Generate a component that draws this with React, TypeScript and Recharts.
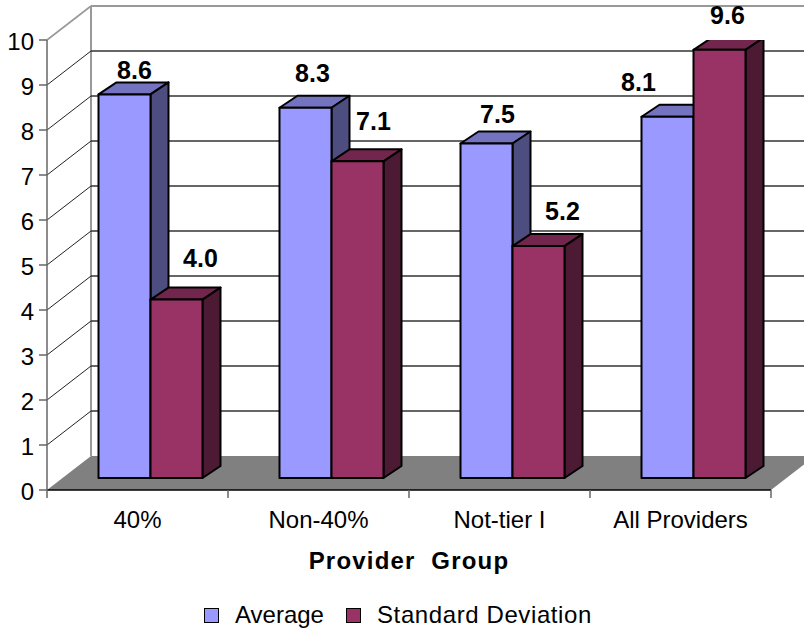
import React from "react";
import { ComposedChart, Bar, Line, XAxis, YAxis, CartesianGrid, Legend, LabelList } from "recharts";

const categories = ["40%", "Non-40%", "Not-tier I", "All Providers"];
const averages = [8.6, 8.3, 7.5, 8.1];
const stdDevs = [4.0, 7.1, 5.2, 9.6];
const valueTicks = [0, 1, 2, 3, 4, 5, 6, 7, 8, 9, 10];

const data = categories.map((name, i) => ({ name, average: averages[i], std: stdDevs[i] }));

const WIDTH = 804;
const HEIGHT = 629;
const FONT = "'Liberation Sans', Arial, sans-serif";

const PLOT_LEFT = 47;
const PLOT_RIGHT = 771;
const PLOT_TOP = 40;
const PLOT_BOTTOM = 490;
const STEP = (PLOT_RIGHT - PLOT_LEFT) / categories.length;

// fake perspective: wall offset from the front axes, and bar depth
const WALL_DX = 44;
const WALL_DY = 34;
const BAR_DX = 18;
const BAR_DY = 12;
const GROUP_SHIFT = 12.5;

// bar labels are hand placed, [dx, dy] from the top centre of the front face
const averageLabelShift = [[10, -15], [7, -26], [11, -20], [-29, -26]];
const stdLabelShift = [[24, -33], [16, -31], [24, -26], [8, -26]];

function Bar3D(props: any) {
  const { x, y, width, height, fill, top, side } = props;
  const l = x + GROUP_SHIFT;
  const r = l + width;
  const b = y + height;
  return (
    <g stroke="#000" strokeWidth={2} strokeLinejoin="round">
      <polygon points={`${l},${y} ${l + BAR_DX},${y - BAR_DY} ${r + BAR_DX},${y - BAR_DY} ${r},${y}`} fill={top} />
      <polygon points={`${r},${y} ${r + BAR_DX},${y - BAR_DY} ${r + BAR_DX},${b - BAR_DY} ${r},${b}`} fill={side} />
      <rect x={l} y={y} width={width} height={height} fill={fill} />
    </g>
  );
}

function barLabel(shifts: number[][]) {
  return (props: any) => {
    const { x, y, width, value, index } = props;
    const [dx, dy] = shifts[index];
    return (
      <text
        x={x + GROUP_SHIFT + width / 2 + dx}
        y={y + dy}
        textAnchor="middle"
        fontFamily={FONT}
        fontSize={25}
        fontWeight="bold"
        fill="#000"
      >
        {Number(value).toFixed(1)}
      </text>
    );
  };
}

// each value gridline runs along the side wall and then across the back wall
function gridLine(props: any) {
  const { x1, x2, y1, key } = props;
  const isTop = Math.abs(y1 - PLOT_TOP) < 1;
  const isFloor = Math.abs(y1 - PLOT_BOTTOM) < 1;
  const bx = x1 + WALL_DX;
  const by = y1 - WALL_DY;
  if (isFloor) {
    return (
      <g key={key}>
        <polygon points={`${x1},${y1} ${x2},${y1} ${x2 + WALL_DX},${by} ${bx},${by}`} fill="#808080" />
        <line x1={bx} y1={by} x2={bx} y2={PLOT_TOP - WALL_DY} stroke="#999" strokeWidth={2} />
      </g>
    );
  }
  return (
    <g key={key} fill="none">
      <line x1={x1} y1={y1} x2={bx} y2={by} stroke={isTop ? "#999" : "#222"} strokeWidth={isTop ? 1.6 : 1} />
      <line x1={bx} y1={by} x2={x2 + WALL_DX} y2={by} stroke={isTop ? "#999" : "#333"} strokeWidth={isTop ? 2 : 1.3} />
    </g>
  );
}

function CategoryTick(props: any) {
  const { x, y, payload, index } = props;
  const edge = x - STEP / 2;
  return (
    <g>
      <line x1={edge} y1={PLOT_BOTTOM} x2={edge} y2={PLOT_BOTTOM + 8} stroke="#666" strokeWidth={1.5} />
      {index === categories.length - 1 && (
        <line x1={x + STEP / 2} y1={PLOT_BOTTOM} x2={x + STEP / 2} y2={PLOT_BOTTOM + 8} stroke="#666" strokeWidth={1.5} />
      )}
      <text x={x} y={y + 30} textAnchor="middle" fontFamily={FONT} fontSize={24} fill="#000">
        {payload.value}
      </text>
    </g>
  );
}

function LegendRow(props: any) {
  const items = (props.payload ?? []).filter((item: any) => item.type !== "none");
  return (
    <div style={{ position: "relative", height: 30, fontFamily: FONT, fontSize: 24, color: "#000" }}>
      {items.map((item: any, i: number) => (
        <div key={item.value} style={{ position: "absolute", left: i === 0 ? 204 : 346, top: 0, display: "flex", alignItems: "center", whiteSpace: "nowrap" }}>
          <span style={{ width: 13, height: 13, background: item.color, border: "1.5px solid #000", marginRight: 16 }} />
          <span style={{ letterSpacing: i === 0 ? 0 : 0.6 }}>{item.value}</span>
        </div>
      ))}
    </div>
  );
}

export default function App() {
  return (
    <div style={{ position: "absolute", left: 0, top: 0, width: WIDTH, height: HEIGHT, background: "#fff" }}>
      <ComposedChart
        width={WIDTH}
        height={HEIGHT}
        data={data}
        barSize={52}
        barGap={0}
        margin={{ top: PLOT_TOP, right: WIDTH - PLOT_RIGHT, bottom: 0, left: 0 }}
      >
        <CartesianGrid horizontal={gridLine} vertical={false} />
        <XAxis
          dataKey="name"
          height={HEIGHT - PLOT_BOTTOM}
          interval={0}
          axisLine={{ stroke: "#000", strokeWidth: 1.6 }}
          tickLine={false}
          tick={<CategoryTick />}
          label={{
            value: "Provider\u00a0\u00a0Group",
            position: "insideBottom",
            offset: 60,
            fontFamily: FONT,
            fontSize: 24,
            fontWeight: "bold",
            fill: "#000",
            letterSpacing: 1.2,
          }}
        />
        <YAxis
          width={PLOT_LEFT}
          type="number"
          domain={[0, 10]}
          ticks={valueTicks}
          interval={0}
          axisLine={{ stroke: "#666", strokeWidth: 1.5 }}
          tickLine={{ stroke: "#666", strokeWidth: 1.5 }}
          tickSize={8}
          tickMargin={5}
          tick={{ fontFamily: FONT, fontSize: 24, fill: "#000", dy: 1 }}
        />
        {/* bars stand further back on the floor, so they get their own slightly shorter scale */}
        <YAxis yAxisId="bars" hide width={0} type="number" domain={[-0.27, 9.82]} allowDataOverflow />
        {/* keeps the front value axis bound to a series; never painted */}
        <Line dataKey="average" stroke="none" dot={false} legendType="none" isAnimationActive={false} />
        <Bar
          dataKey="average"
          name="Average"
          yAxisId="bars"
          fill="#9999FF"
          isAnimationActive={false}
          shape={<Bar3D top="#7373BF" side="#4D4D80" />}
        >
          <LabelList dataKey="average" content={barLabel(averageLabelShift)} />
        </Bar>
        <Bar
          dataKey="std"
          name="Standard Deviation"
          yAxisId="bars"
          fill="#993366"
          isAnimationActive={false}
          shape={<Bar3D top="#73264D" side="#4D1A33" />}
        >
          <LabelList dataKey="std" content={barLabel(stdLabelShift)} />
        </Bar>
        <Legend
          layout="horizontal"
          align="center"
          verticalAlign="middle"
          wrapperStyle={{ top: 601, left: 0, width: WIDTH }}
          content={<LegendRow />}
        />
      </ComposedChart>
    </div>
  );
}
